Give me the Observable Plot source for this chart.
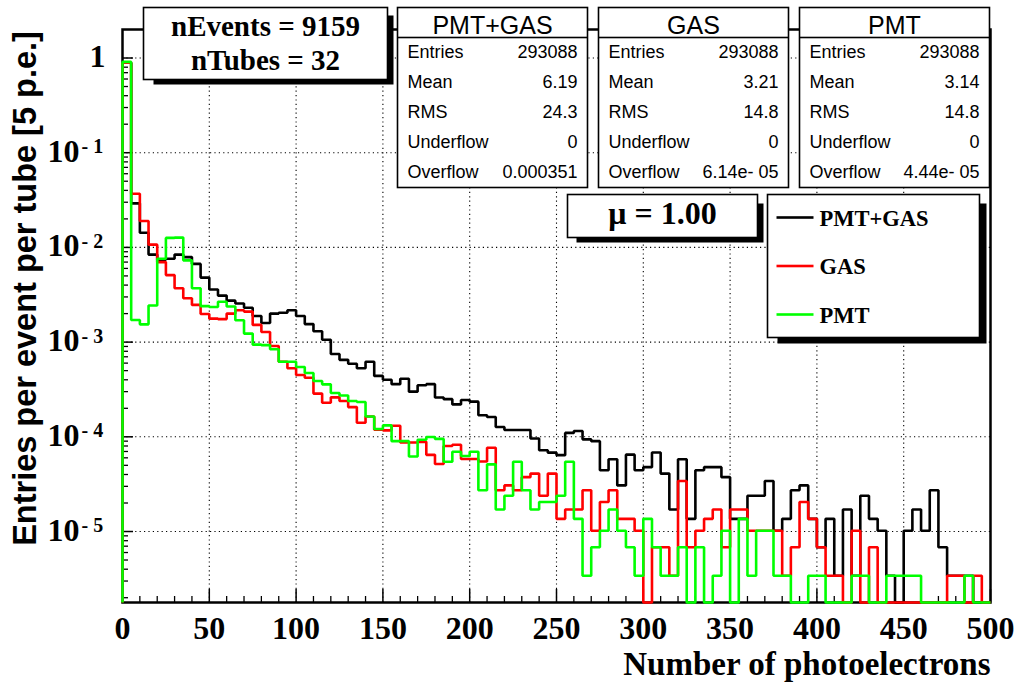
<!DOCTYPE html>
<html><head><meta charset="utf-8">
<script src="https://cdn.jsdelivr.net/npm/d3@7"></script>
<script src="https://cdn.jsdelivr.net/npm/@observablehq/plot@0.6"></script>
<style>body{margin:0;background:#fff}#chart{width:1018px;height:684px}</style>
</head><body><div id="chart"></div>
<script>
// ---------------- data ----------------
const binWidth = 5; // p.e. per bin, 100 bins from 0 to 500
const pmtGas = [
 0.89, 0.0292, 0.0143, 0.0084, 0.0074, 0.0076, 0.0084, 0.0079, 0.0067, 0.0048,
 0.0036, 0.0031, 0.00274, 0.00256, 0.00231, 0.00189, 0.00159, 0.0020, 0.00204, 0.00217,
 0.00189, 0.00155, 0.0013, 0.00106, 0.00075, 0.00065, 0.00059, 0.00053, 0.00062, 0.00044,
 0.0004, 0.00036, 0.00041, 0.0003, 0.00035, 0.00036, 0.00026, 0.00025, 0.00022, 0.000245,
 0.000235, 0.000169, 0.000162, 0.000127, 0.000118, 0.000118, 0.000118, 9.6e-5, 7.2e-5, 6.8e-5,
 6.4e-5, 1.1e-4, 1.15e-4, 9.4e-5, 9.0e-5, 4.44e-5, 5.80e-5, 3.07e-5, 6.48e-5, 4.44e-5,
 4.78e-5, 6.82e-5, 4.09e-5, 1.71e-5, 5.80e-5, 1.36e-5, 4.44e-5, 4.78e-5, 4.78e-5, 3.75e-5,
 1.36e-5, 1.36e-5, 2.39e-5, 2.39e-5, 3.41e-5, 1.02e-5, 1.36e-5, 2.73e-5, 3.07e-5, 1.36e-5,
 6.82e-6, 1.36e-5, 3.41e-6, 1.71e-5, 3.41e-6, 2.39e-5, 1.36e-5, 1.02e-5, 3.41e-6, 0,
 1.02e-5, 1.71e-5, 1.02e-5, 2.73e-5, 6.82e-6, 3.41e-6, 3.41e-6, 3.41e-6, 0, 0
];
const gasOnly = [
 0.89, 0.0369, 0.019, 0.0107, 0.0070, 0.0051, 0.0037, 0.0029, 0.00247, 0.00198,
 0.00177, 0.00175, 0.0020, 0.00217, 0.0021, 0.00152, 0.00128, 0.00091, 0.00062, 0.00053,
 0.00045, 0.00042, 0.000286, 0.000229, 0.000261, 0.000239, 0.000206, 0.000141, 0.000164, 0.000119,
 0.000117, 0.000131, 8.7e-5, 8.7e-5, 8.85e-5, 6.45e-5, 5.16e-5, 8.0e-5, 8.26e-5, 5.83e-5,
 5.83e-5, 5.48e-5, 7.67e-5, 2.73e-5, 3.07e-5, 2.73e-5, 3.75e-5, 4.09e-5, 2.39e-5, 4.09e-5,
 1.36e-5, 1.71e-5, 1.71e-5, 2.73e-5, 1.02e-5, 2.05e-5, 2.73e-5, 1.36e-5, 1.36e-5, 1.02e-5,
 0, 6.82e-6, 6.82e-6, 3.41e-6, 3.41e-5, 6.82e-6, 1.02e-5, 1.36e-5, 1.71e-5, 6.82e-6,
 1.71e-5, 1.71e-5, 1.02e-5, 1.02e-5, 1.02e-5, 1.02e-5, 3.41e-6, 6.82e-6, 2.05e-5, 1.36e-5,
 6.82e-6, 3.41e-6, 3.41e-6, 0, 1.02e-5, 0, 6.82e-6, 0, 0, 0,
 0, 0, 0, 0, 0, 3.41e-6, 3.41e-6, 0, 3.41e-6, 0
];
const pmtOnly = [
 0.91, 0.00171, 0.00154, 0.00244, 0.0076, 0.0126, 0.0127, 0.0073, 0.0037, 0.0024,
 0.00235, 0.00267, 0.00238, 0.0017, 0.00123, 0.00094, 0.00093, 0.00084, 0.00062, 0.00062,
 0.000546, 0.000472, 0.000388, 0.000358, 0.00029, 0.000273, 0.000239, 0.000233, 0.000164, 0.000121,
 0.000132, 9.0e-5, 9.0e-5, 6.2e-5, 9.3e-5, 9.95e-5, 9.5e-5, 5.46e-5, 6.96e-5, 6.27e-5,
 6.96e-5, 2.73e-5, 5.12e-5, 1.71e-5, 2.39e-5, 5.46e-5, 2.73e-5, 1.71e-5, 2.05e-5, 2.05e-5,
 2.39e-5, 5.46e-5, 1.36e-5, 3.41e-6, 6.82e-6, 1.02e-5, 1.71e-5, 1.02e-5, 6.82e-6, 3.41e-6,
 1.36e-5, 6.82e-6, 3.41e-6, 3.41e-6, 6.82e-6, 0, 6.82e-6, 0, 3.41e-6, 1.02e-5,
 0, 1.36e-5, 3.41e-6, 1.02e-5, 1.02e-5, 3.41e-6, 3.41e-6, 0, 0, 3.41e-6,
 3.41e-6, 0, 0, 0, 3.41e-6, 3.41e-6, 0, 0, 3.41e-6, 3.41e-6,
 3.41e-6, 3.41e-6, 0, 0, 0, 0, 0, 3.41e-6, 0, 0
];
const seriesNames = ["PMT+GAS", "GAS", "PMT"];
const seriesColors = ["#000000", "#ff0000", "#00ff00"];

const xTickLabels = [0, 50, 100, 150, 200, 250, 300, 350, 400, 450, 500];
const yDecadeExps = [-5, -4, -3, -2, -1];

const infoLines = ["nEvents = 9159", "nTubes = 32"];
const muText = "\u03bc = 1.00";
const statRowNames = ["Entries", "Mean", "RMS", "Underflow", "Overflow"];
const statEntries = ["293088", "293088", "293088"];
const statMean = ["6.19", "3.21", "3.14"];
const statRMS = ["24.3", "14.8", "14.8"];
const statUnderflow = ["0", "0", "0"];
const statOverflow = ["0.000351", "6.14e- 05", "4.44e- 05"];

const xTitle = "Number of photoelectrons";
const yTitle = "Entries per event per tube [5 p.e.]";

// ---------------- layout ----------------
const W = 1018, H = 684;
const FL = 122, FR = 990, FT = 29, FB = 602;
const yFloor = 1.78e-6, yTop = 2;
const SERIF = "'Liberation Serif','Times New Roman',serif";
const SANS = "'Liberation Sans',Arial,sans-serif";

function steps(values, name) {
  const pts = [{name, x: 0, y: yFloor}];
  values.forEach((v, i) => pts.push({name, x: i * binWidth, y: v > 0 ? v : yFloor}));
  const last = values[values.length - 1];
  pts.push({name, x: values.length * binWidth, y: last > 0 ? last : yFloor});
  pts.push({name, x: values.length * binWidth, y: yFloor});
  return pts;
}
const allSeries = [pmtGas, gasOnly, pmtOnly];

const xMinor = d3.range(0, 501, 10).filter(v => v % 50 !== 0);
const yMinor = [];
for (let e = -6; e <= 0; e++) for (let m = 2; m <= 9; m++) {
  const v = m * Math.pow(10, e);
  if (v > yFloor && v < yTop) yMinor.push(v);
}
const yGrid = [...yDecadeExps.map(e => Math.pow(10, e)), 1];
const xGrid = xTickLabels.filter(v => v > 0 && v < 500);

const box = (x0, y0, x1, y1, o) => Plot.frame({
  insetLeft: x0 - FL, insetRight: FR - x1, insetTop: y0 - FT, insetBottom: FB - y1, ...o
});
const label = (str, x, y, o) => Plot.text([str], {
  text: d => d, frameAnchor: "top-left", dx: x - FL, dy: y - FT, lineAnchor: "bottom", ...o
});

const marks = [];
// grid
marks.push(Plot.ruleX(xGrid, {x: d => d, stroke: "black", strokeWidth: 1.1, strokeDasharray: "1.2,3.2"}));
marks.push(Plot.ruleY(yGrid, {y: d => d, stroke: "black", strokeWidth: 1.1, strokeDasharray: "1.2,3.2"}));
// frame
marks.push(Plot.frame({stroke: "black", strokeWidth: 2.5}));
// ticks (inside)
marks.push(Plot.tickX(xTickLabels, {x: d => d, insetTop: (FB - FT) - 13, stroke: "black", strokeWidth: 1.5}));
marks.push(Plot.tickX(xMinor, {x: d => d, insetTop: (FB - FT) - 6, stroke: "black", strokeWidth: 1.3}));
marks.push(Plot.tickY(yGrid, {y: d => d, insetRight: (FR - FL) - 11, stroke: "black", strokeWidth: 1.5}));
marks.push(Plot.tickY(yMinor, {y: d => d, insetRight: (FR - FL) - 6, stroke: "black", strokeWidth: 1.3}));
// histograms
allSeries.forEach((vals, i) => {
  marks.push(Plot.line(steps(vals, seriesNames[i]), {
    x: "x", y: "y", curve: "step-after", stroke: seriesColors[i], strokeWidth: 2.6,
    strokeLinejoin: "miter", strokeLinecap: "butt"
  }));
});
// nEvents box
marks.push(box(153, 15, 393, 84, {fill: "black", stroke: "none"}));
marks.push(box(143, 7, 387, 79, {fill: "white", stroke: "black", strokeWidth: 1.6}));
marks.push(label(infoLines[0], 265, 35, {textAnchor: "middle", fontFamily: SERIF, fontWeight: "bold", fontSize: 29, fill: "black"}));
marks.push(label(infoLines[1], 265, 69, {textAnchor: "middle", fontFamily: SERIF, fontWeight: "bold", fontSize: 29, fill: "black"}));
// stat boxes
const statX = [[397, 587], [598, 788], [799, 989]];
statX.forEach(([x0, x1], i) => {
  marks.push(box(x0, 7, x1, 187, {fill: "white", stroke: "black", strokeWidth: 1.6}));
  marks.push(box(x0, 36.2, x1, 37.8, {fill: "black", stroke: "none"}));
  marks.push(label(seriesNames[i], (x0 + x1) / 2, 33, {textAnchor: "middle", fontFamily: SANS, fontSize: 25, fill: "black"}));
  marks.push(label(statRowNames.join("\n"), x0 + 10, 177, {textAnchor: "start", fontFamily: SANS, fontSize: 18, lineHeight: 1.653, fill: "black"}));
  const vals = [statEntries[i], statMean[i], statRMS[i], statUnderflow[i], statOverflow[i]];
  marks.push(label(vals.join("\n"), x1 - 10, 177, {textAnchor: "end", fontFamily: SANS, fontSize: 18, lineHeight: 1.653, fill: "black"}));
});
// mu box
marks.push(box(576, 203, 763, 242, {fill: "black", stroke: "none"}));
marks.push(box(567, 194, 757, 237, {fill: "white", stroke: "black", strokeWidth: 1.6}));
marks.push(label(muText, 662, 223, {textAnchor: "middle", fontFamily: SERIF, fontWeight: "bold", fontSize: 32, fill: "black"}));
// legend
marks.push(box(777, 203, 986, 343, {fill: "black", stroke: "none"}));
marks.push(box(767, 194, 979, 337, {fill: "white", stroke: "black", strokeWidth: 1.6}));
const legBase = [225, 273.5, 322];
seriesNames.forEach((name, i) => {
  const yb = legBase[i];
  marks.push(box(776, yb - 9.3, 813, yb - 6.7, {fill: seriesColors[i], stroke: "none"}));
  marks.push(label(name, 819, yb, {textAnchor: "start", fontFamily: SERIF, fontWeight: "bold", fontSize: 22.5, fill: "black"}));
});
// axis tick labels
marks.push(Plot.text(xTickLabels, {x: d => d, text: d => String(d), frameAnchor: "bottom", dy: 638 - FB, lineAnchor: "bottom",
  textAnchor: "middle", fontFamily: SERIF, fontWeight: "bold", fontSize: 32, fill: "black"}));
marks.push(Plot.text(yDecadeExps, {y: d => Math.pow(10, d), text: d => "10", frameAnchor: "left", dx: 79 - FL, dy: 9, lineAnchor: "bottom",
  textAnchor: "end", fontFamily: SERIF, fontWeight: "bold", fontSize: 32, fill: "black"}));
marks.push(Plot.text(yDecadeExps, {y: d => Math.pow(10, d), text: d => "- " + Math.abs(d), frameAnchor: "left", dx: 81 - FL, dy: 0.5, lineAnchor: "bottom",
  textAnchor: "start", fontFamily: SERIF, fontWeight: "bold", fontSize: 20, fill: "black"}));
marks.push(Plot.text([1], {y: d => d, text: d => "1", frameAnchor: "left", dx: 105 - FL, dy: 9, lineAnchor: "bottom",
  textAnchor: "end", fontFamily: SERIF, fontWeight: "bold", fontSize: 32, fill: "black"}));
// axis titles
marks.push(label(xTitle, 990, 674, {textAnchor: "end", fontFamily: SERIF, fontWeight: "bold", fontSize: 33, fill: "black"}));
marks.push(Plot.text([yTitle], {text: d => d, frameAnchor: "top-left", dx: 25 - FL, dy: 288 - FT, rotate: -90,
  textAnchor: "middle", lineAnchor: "middle", fontFamily: SANS, fontWeight: "bold", fontSize: 32.5, fill: "black"}));

const chart = Plot.plot({
  width: W, height: H,
  marginLeft: FL, marginRight: W - FR, marginTop: FT, marginBottom: H - FB,
  x: {domain: [0, 500], axis: null},
  y: {type: "log", domain: [yFloor, yTop], axis: null},
  style: {background: "white", overflow: "visible"},
  marks
});
document.getElementById("chart").append(chart);
</script>
</body></html>
